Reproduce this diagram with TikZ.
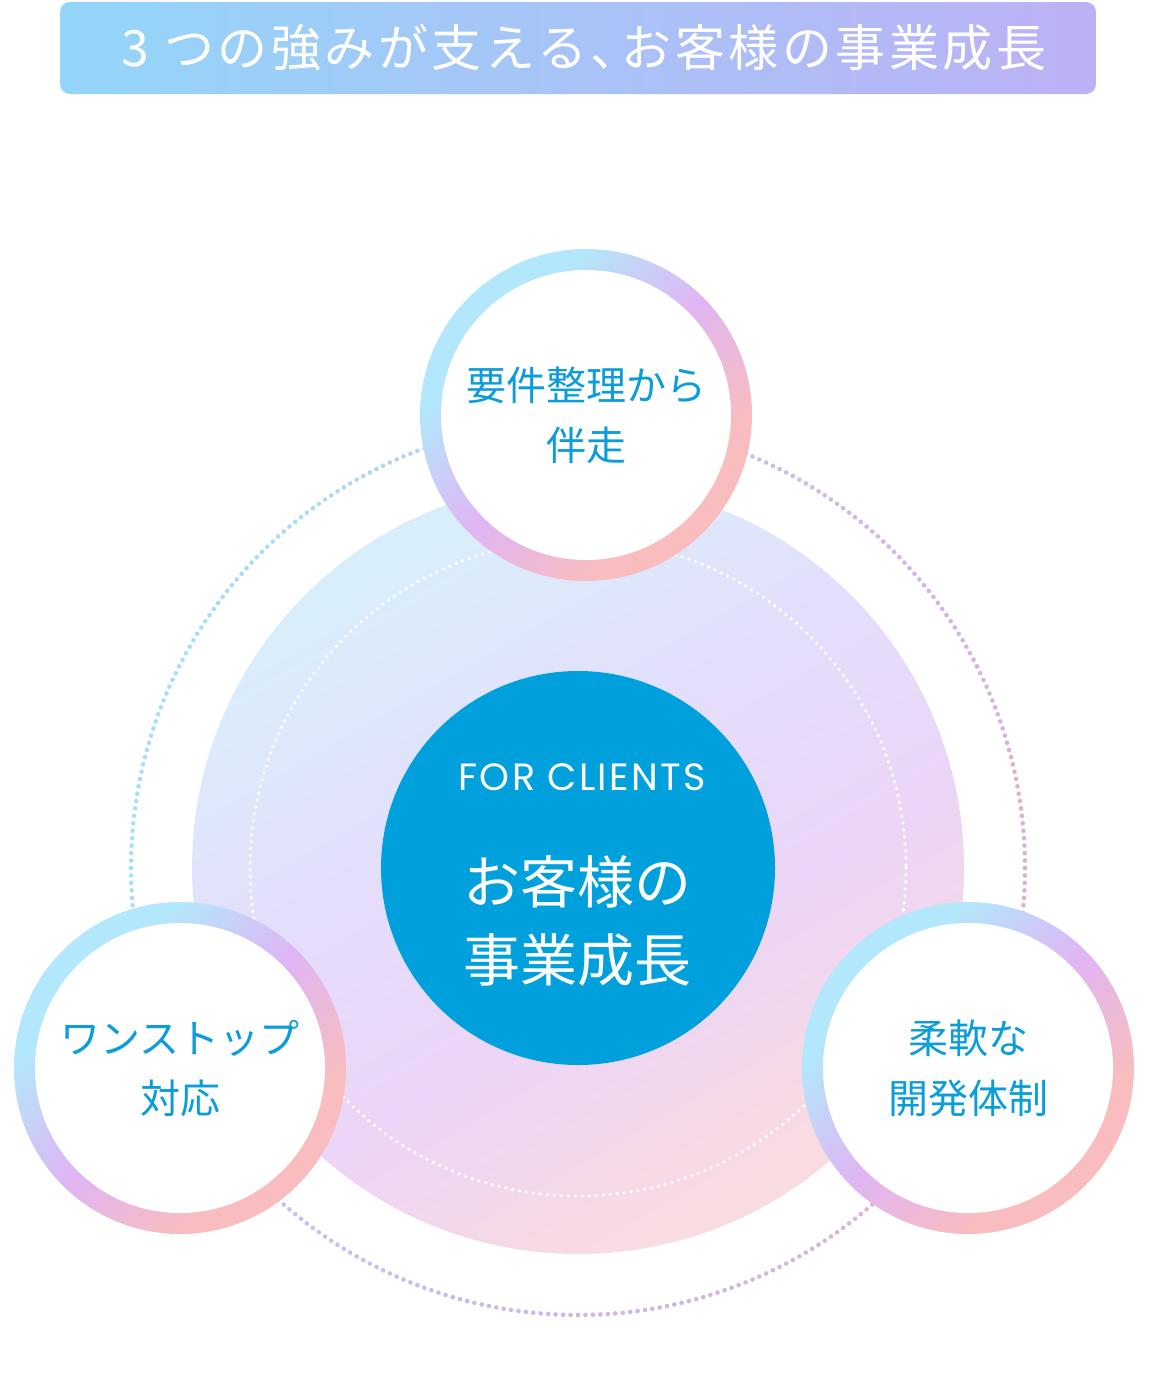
\documentclass[tikz,border=0pt]{standalone}
\usepackage{fontspec}
\usetikzlibrary{calc}
\newfontfamily\jp{Noto Sans CJK JP}
\newfontfamily\jptitle{Noto Sans CJK JP}[LetterSpace=7]
\newfontfamily\latinf{Poppins}[LetterSpace=6]
\definecolor{cblue}{HTML}{00A0DD}
\definecolor{txtblue}{HTML}{0A9DDA}
\definecolor{tl}{HTML}{94D6F9}
\definecolor{tr}{HTML}{BCB1F5}
\definecolor{ringblue}{HTML}{B3E7FB}
\definecolor{ringpurple}{HTML}{E0B5F4}
\definecolor{ringpink}{HTML}{F9BDBF}
\definecolor{bg1}{HTML}{D9EEFB}
\definecolor{bg2}{HTML}{E4DEFB}
\definecolor{bg3}{HTML}{ECD5F6}
\definecolor{bg4}{HTML}{F9DBE2}
\definecolor{dA}{HTML}{DAB3CC}
\definecolor{dB}{HTML}{DCB6D2}
\definecolor{dC}{HTML}{CDB5EE}
\definecolor{dD}{HTML}{C0C6F6}
\definecolor{dE}{HTML}{A6E0F7}
\definecolor{dF}{HTML}{A8DEF5}
\definecolor{dG}{HTML}{C4C8F2}
\definecolor{dH}{HTML}{D4B4EA}
\pgfdeclarehorizontalshading{ringshade}{100bp}{color(0bp)=(ringblue); color(32bp)=(ringblue); color(50bp)=(ringpurple); color(68bp)=(ringpink); color(100bp)=(ringpink)}
\pgfdeclarehorizontalshading{bigshade}{100bp}{color(0bp)=(bg1); color(27bp)=(bg1); color(44bp)=(bg2); color(58bp)=(bg3); color(73bp)=(bg4); color(100bp)=(bg4)}
\newcommand\dotarc[3]{%
  \foreach \i in {0,...,46}{%
    \pgfmathsetmacro\ang{#1+\i*45/47}%
    \pgfmathsetmacro\pc{100-\i*100/47}%
    \fill[fill=#2!\pc!#3] ($(big.center)+(\ang:447)$) circle[radius=2.3];
  }}
\tikzset{
  ring/.style={circle, inner sep=0pt, minimum size=332pt, shading=ringshade, shading angle=-45},
  ringin/.style={circle, inner sep=0pt, minimum size=290pt, fill=white, text=txtblue, align=center, font=\jp\fontsize{40}{60}\selectfont},
}
\begin{document}
\begin{tikzpicture}[x=1pt,y=-1pt]
\useasboundingbox[fill=white] (0,0) rectangle (1150,1400);
% big gradient disc
\node[circle, inner sep=0pt, minimum size=772pt, shading=bigshade, shading angle=-60] (big) at (578,868) {};
% inner white dotted circle
\draw[white, line width=3.6pt, line cap=round, dash pattern=on 0pt off 7pt] (big.center) circle[radius=328];
% outer coloured dotted circle (screen angles: 0 right, 90 down)
\dotarc{0}{dA}{dB}
\dotarc{45}{dB}{dC}
\dotarc{90}{dC}{dD}
\dotarc{135}{dD}{dE}
\dotarc{180}{dE}{dF}
\dotarc{225}{dF}{dG}
\dotarc{270}{dG}{dH}
\dotarc{315}{dH}{dA}
% core
\node[circle, inner sep=0pt, minimum size=394pt, fill=cblue] (core) at (578,868) {};
\node[text=white, font=\latinf\fontsize{38}{40}\selectfont] (forc) at (582,777) {FOR CLIENTS};
\node[text=white, align=center, font=\jp\fontsize{57}{78}\selectfont] (coretxt) at (577,921) {お客様の\\事業成長};
% rings
\node[ring] (r1) at (586,415) {};
\node[ringin] (t1) at (r1) {要件整理から\\伴走};
\node[ring] (r2) at (180,1068) {};
\node[ringin] (t2) at (r2) {ワンストップ\\対応};
\node[ring] (r3) at (968,1068) {};
\node[ringin] (t3) at (r3) {柔軟な\\開発体制};
% title bar
\node[rounded corners=10pt, inner sep=0pt, minimum width=1036pt, minimum height=92pt, left color=tl, right color=tr] (title) at (578,48) {};
\node[text=white, font=\jptitle\fontsize{50}{52}\selectfont] (titletxt) at (584,48) {3 つの強みが支える、\kern-19pt お客様の事業成長};
\end{tikzpicture}
\end{document}
